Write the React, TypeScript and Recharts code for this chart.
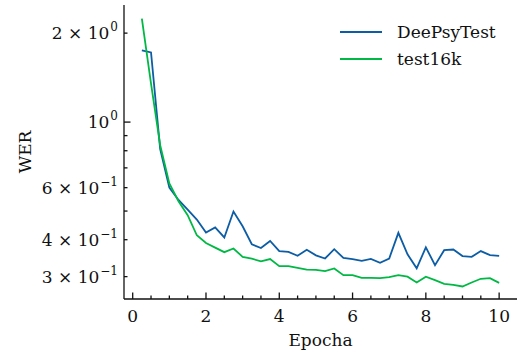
import { LineChart, Line, XAxis, YAxis, Legend } from 'recharts'

const epochs = [0.25, 0.5, 0.75, 1, 1.25, 1.5, 1.75, 2, 2.25, 2.5, 2.75, 3, 3.25, 3.5, 3.75, 4, 4.25, 4.5, 4.75, 5,
  5.25, 5.5, 5.75, 6, 6.25, 6.5, 6.75, 7, 7.25, 7.5, 7.75, 8, 8.25, 8.5, 8.75, 9, 9.25, 9.5, 9.75, 10]

const deepsyTest = [1.75, 1.72, 0.81, 0.6, 0.545, 0.506, 0.468, 0.423, 0.44, 0.407, 0.498, 0.444, 0.386, 0.375, 0.396, 0.366, 0.364, 0.353, 0.37, 0.354,
  0.3455, 0.3715, 0.347, 0.3436, 0.339, 0.3445, 0.334, 0.3455, 0.422, 0.357, 0.32, 0.377, 0.328, 0.3685, 0.3705, 0.352, 0.35, 0.366, 0.3546, 0.3527]

const test16k = [2.24, 1.35, 0.835, 0.62, 0.54, 0.484, 0.414, 0.39, 0.376, 0.363, 0.3735, 0.35, 0.345, 0.338, 0.344, 0.3255, 0.3255, 0.321, 0.317, 0.316,
  0.313, 0.3196, 0.3035, 0.3035, 0.297, 0.297, 0.2965, 0.2987, 0.3035, 0.2998, 0.2866, 0.2998, 0.2918, 0.2836, 0.2813, 0.2778, 0.2866, 0.295, 0.2965, 0.2858]

const seriesNames = ['DeePsyTest', 'test16k']
const seriesColors = ['#0C5DA5', '#00B945']

const xTicks = [0, 0.5, 1, 1.5, 2, 2.5, 3, 3.5, 4, 4.5, 5, 5.5, 6, 6.5, 7, 7.5, 8, 8.5, 9, 9.5, 10]
const xMajorTicks = [0, 2, 4, 6, 8, 10]
const xTickLabels = ['0', '2', '4', '6', '8', '10']

const yTicks = [0.3, 0.4, 0.5, 0.6, 0.7, 0.8, 0.9, 1, 2]
const yLabelTicks = [0.3, 0.4, 0.6, 1, 2]
const yTickLabels = ['3 × 10', '4 × 10', '6 × 10', '10', '2 × 10']
const yTickExps = ['−1', '−1', '−1', '0', '0']

const data = epochs.map((e, i) => ({ epoch: e, deepsy: deepsyTest[i], t16: test16k[i] }))

const ink = '#111'
const serif = '"DejaVu Serif", serif'
const fs = 17
const xDomain = [-0.2375, 10.4875]
const yDomain = [0.252, 2.49]

// ticks point inwards on all four sides, like the matplotlib "science" style
function BottomTick({ x, y, payload }: any) {
  const i = xMajorTicks.indexOf(payload.value)
  return (
    <g>
      <path d={`M${x},${y}V${y - (i >= 0 ? 6.5 : 3.5)}`} stroke={ink} strokeWidth={1.3} fill="none" />
      {i >= 0 && <text x={x} y={y + 23} textAnchor="middle" fontSize={fs} fontFamily={serif} fill={ink}>{xTickLabels[i]}</text>}
    </g>
  )
}

function TopTick({ x, y, payload }: any) {
  const major = xMajorTicks.includes(payload.value)
  return <path d={`M${x},${y}V${y + (major ? 6.5 : 3.5)}`} stroke={ink} strokeWidth={1.3} fill="none" />
}

function LeftTick({ x, y, payload }: any) {
  const i = yLabelTicks.indexOf(payload.value)
  const major = payload.value === 1
  return (
    <g>
      <path d={`M${x},${y}H${x + (major ? 6.5 : 3.5)}`} stroke={ink} strokeWidth={1.3} fill="none" />
      {i >= 0 && (
        <text x={x - 6} y={y + 6} textAnchor="end" fontSize={fs} fontFamily={serif} fill={ink}>
          <tspan>{yTickLabels[i]}</tspan>
          <tspan fontSize={12} dy={-8} dx={1}>{yTickExps[i]}</tspan>
        </text>
      )}
    </g>
  )
}

function RightTick({ x, y, payload }: any) {
  const major = payload.value === 1
  return <path d={`M${x},${y}H${x - (major ? 6.5 : 3.5)}`} stroke={ink} strokeWidth={1.3} fill="none" />
}

function LegendBox() {
  return (
    <div style={{ fontFamily: serif, fontSize: 17, color: ink, width: 180 }}>
      {seriesNames.map((n, i) => (
        <div key={n} style={{ display: 'flex', alignItems: 'center', height: 27.6 }}>
          <svg width={42} height={4} style={{ marginRight: 15, flexShrink: 0 }}>
            <line x1={0} x2={42} y1={2} y2={2} stroke={seriesColors[i]} strokeWidth={1.8} />
          </svg>
          <span>{n}</span>
        </div>
      ))}
    </div>
  )
}

export default function App() {
  return (
    <div style={{ position: 'absolute', left: 0, top: 0, width: 520, height: 353, background: '#fff', fontFamily: serif }}>
      <LineChart width={520} height={353} data={data} margin={{ top: 5, right: 3, bottom: 0, left: 0 }}>
        <XAxis dataKey="epoch" type="number" domain={xDomain} allowDataOverflow ticks={xTicks} interval={0}
          height={54} tickSize={0} tickMargin={0} tickLine={false} tick={BottomTick}
          axisLine={{ stroke: ink, strokeWidth: 1.3 }}
          label={{ value: 'Epocha', position: 'insideBottom', offset: 7, fontSize: fs, fontFamily: serif, fill: ink }} />
        <XAxis xAxisId="top" orientation="top" dataKey="epoch" type="number" domain={xDomain} allowDataOverflow ticks={xTicks} interval={0}
          height={0} tickSize={0} tickMargin={0} tickLine={false} tick={TopTick}
          axisLine={{ stroke: ink, strokeWidth: 1.3 }} />
        <YAxis scale="log" type="number" domain={yDomain} allowDataOverflow ticks={yTicks} interval={0}
          width={124} tickSize={0} tickMargin={0} tickLine={false} tick={LeftTick}
          axisLine={{ stroke: ink, strokeWidth: 1.3 }}
          label={{
            content: ({ viewBox }: any) => (
              <text x={31} y={viewBox.y + viewBox.height / 2} transform={`rotate(-90 31 ${viewBox.y + viewBox.height / 2})`}
                textAnchor="middle" fontSize={fs} fontFamily={serif} fill={ink}>WER</text>
            ),
          }} />
        <YAxis yAxisId="right" orientation="right" scale="log" type="number" domain={yDomain} allowDataOverflow ticks={yTicks} interval={0}
          width={0} tickSize={0} tickMargin={0} tickLine={false} tick={RightTick}
          axisLine={{ stroke: ink, strokeWidth: 1.3 }} />
        <Legend layout="vertical" align="center" verticalAlign="middle" content={<LegendBox />}
          wrapperStyle={{ top: 18, left: 340, width: 180 }} />
        <Line dataKey="deepsy" name={seriesNames[0]} stroke={seriesColors[0]} strokeWidth={1.8} dot={false} type="linear" isAnimationActive={false} />
        <Line dataKey="t16" name={seriesNames[1]} stroke={seriesColors[1]} strokeWidth={1.8} dot={false} type="linear" isAnimationActive={false} />
      </LineChart>
    </div>
  )
}
